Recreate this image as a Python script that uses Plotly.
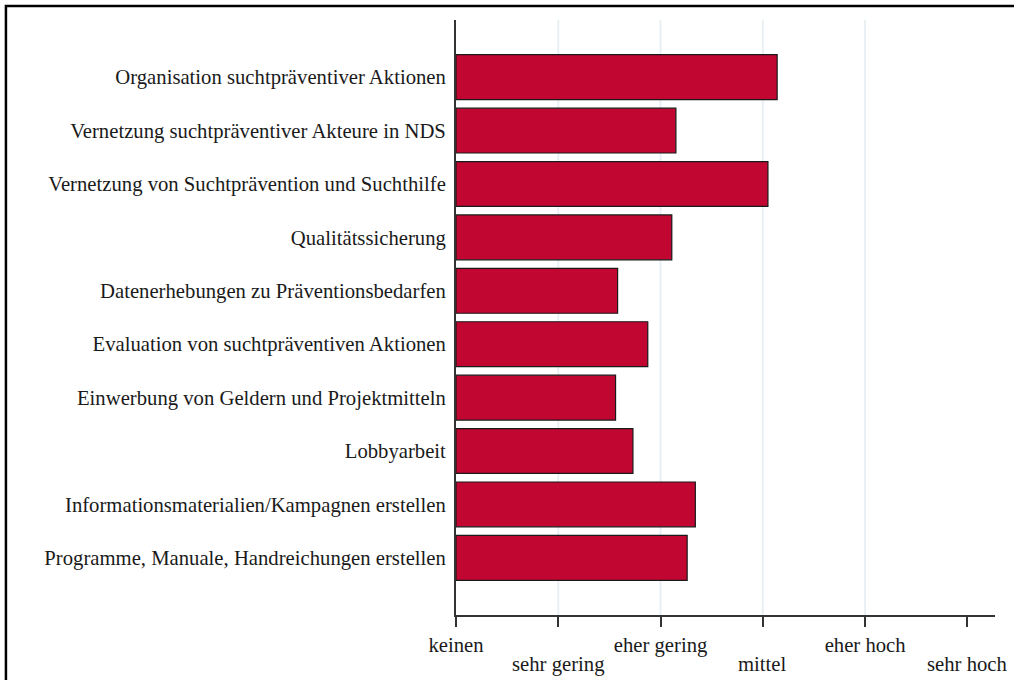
import plotly.graph_objects as go

categories = [
    "Organisation suchtpräventiver Aktionen",
    "Vernetzung suchtpräventiver Akteure in NDS",
    "Vernetzung von Suchtprävention und Suchthilfe",
    "Qualitätssicherung",
    "Datenerhebungen zu Präventionsbedarfen",
    "Evaluation von suchtpräventiven Aktionen",
    "Einwerbung von Geldern und Projektmitteln",
    "Lobbyarbeit",
    "Informationsmaterialien/Kampagnen erstellen",
    "Programme, Manuale, Handreichungen erstellen",
]
values = [3.14, 2.15, 3.05, 2.11, 1.58, 1.875, 1.56, 1.73, 2.34, 2.26]

tick_vals = [0, 1, 2, 3, 4, 5]
tick_labels = ["keinen", "sehr gering", "eher gering", "mittel", "eher hoch", "sehr hoch"]
grid_vals = [1, 2, 3, 4]

FONT = "Liberation Serif, Times New Roman, serif"
FS = 20.7

fig = go.Figure()
fig.add_trace(go.Bar(
    x=values, y=categories, orientation="h",
    width=0.84,
    marker=dict(color="#c10632", line=dict(color="#1a1a1a", width=1.2)),
    hoverinfo="x+y",
))

shapes = []
for g in grid_vals:
    shapes.append(dict(type="line", xref="x", yref="paper", x0=g, x1=g, y0=0, y1=1,
                       line=dict(color="#e9f0f3", width=2), layer="below"))
# outer frame
shapes.append(dict(type="rect", xref="paper", yref="paper",
                   x0=-0.835, x1=1.2, y0=-0.3, y1=1.0235,
                   line=dict(color="black", width=2.5), fillcolor="rgba(0,0,0,0)"))

# upper row as tick labels (even ticks), lower row as annotations (odd ticks)
upper_text = [t if i % 2 == 0 else "" for i, t in enumerate(tick_labels)]
annotations = []
for i, (v, t) in enumerate(zip(tick_vals, tick_labels)):
    if i % 2 == 1:
        annotations.append(dict(x=v, xref="x", y=0, yref="paper", yanchor="top",
                                yshift=-36, text=t, showarrow=False,
                                font=dict(family=FONT, size=FS, color="#1a1a1a")))

fig.update_layout(
    width=1014, height=680,
    margin=dict(l=456, r=19, t=20, b=65),
    paper_bgcolor="white", plot_bgcolor="white",
    font=dict(family=FONT, size=FS, color="#1a1a1a"),
    showlegend=False,
    bargap=0.16,
    shapes=shapes,
    annotations=annotations,
    xaxis=dict(
        range=[0, 5.27], tickvals=tick_vals, ticktext=upper_text,
        showgrid=False, zeroline=False,
        showline=True, linecolor="#333333", linewidth=2,
        ticks="outside", ticklen=10, tickwidth=2, tickcolor="#333333",
        tickfont=dict(family=FONT, size=FS, color="#1a1a1a"),
    ),
    yaxis=dict(
        range=[10.07, -1.07], type="category",
        showgrid=False, zeroline=False,
        showline=True, linecolor="#333333", linewidth=2,
        ticks="outside", ticklen=4, tickcolor="rgba(0,0,0,0)",
        tickfont=dict(family=FONT, size=FS, color="#1a1a1a"),
    ),
)

fig.write_html("out.html", config={"displayModeBar": False},
               post_script="document.body.style.margin='0px';")
